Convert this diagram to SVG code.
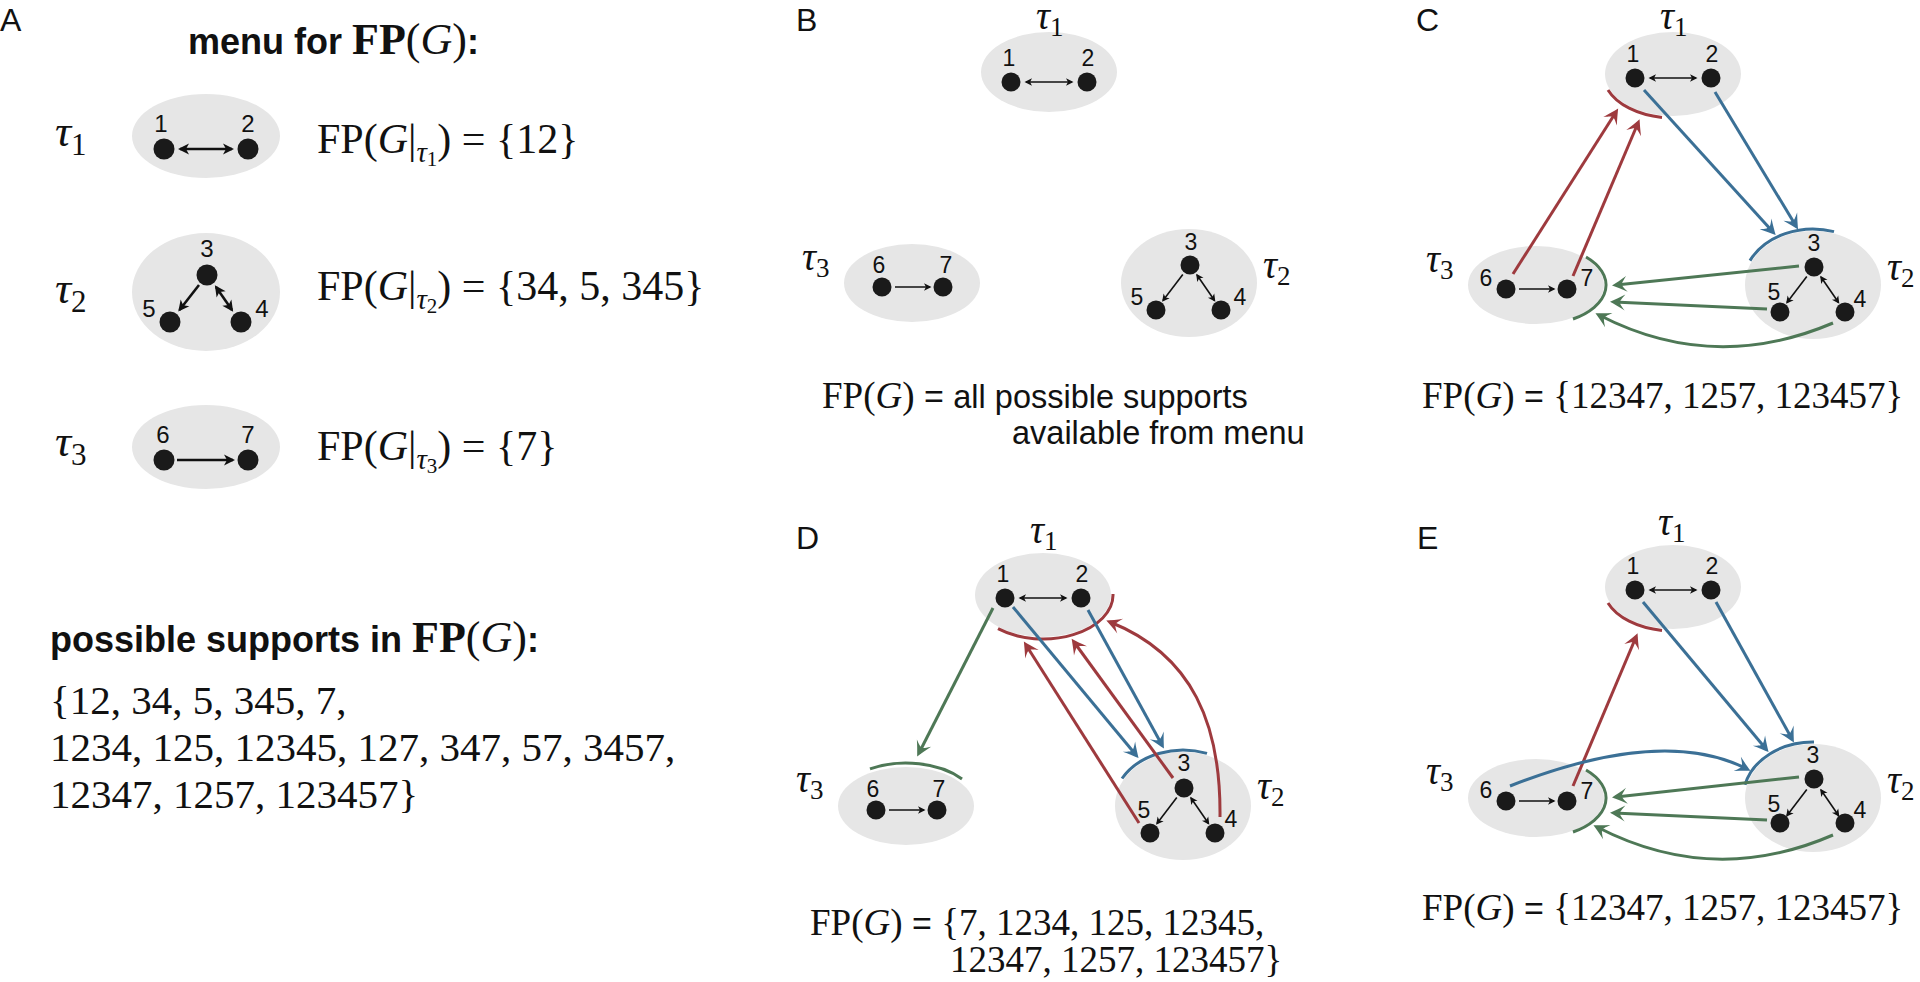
<svg xmlns="http://www.w3.org/2000/svg" width="1920" height="982" viewBox="0 0 1920 982">
<style>
.ell{fill:#e6e6e6}
.nd{fill:#1a1a1a}
.lbl{font-family:"Liberation Sans",Arial,sans-serif;font-size:23px;text-anchor:middle;fill:#111}
.lblA{font-family:"Liberation Sans",Arial,sans-serif;font-size:24px;text-anchor:middle;fill:#111}
.pl{font-family:"Liberation Sans",Arial,sans-serif;font-size:32px;fill:#111}
.tau{font-family:"Liberation Serif","Times New Roman",serif;font-style:italic;font-size:39px;fill:#111}
.tauA{font-family:"Liberation Serif","Times New Roman",serif;font-style:italic;font-size:45px;fill:#111}
.sub{font-style:normal;font-size:27px}
.subA{font-style:normal;font-size:31px}
.m{font-family:"Liberation Serif","Times New Roman",serif;font-size:37px;fill:#111}
.mA{font-family:"Liberation Serif","Times New Roman",serif;font-size:42px;fill:#111}
.mS{font-family:"Liberation Serif","Times New Roman",serif;font-size:41px;fill:#111}
.it{font-style:italic}
.eq{font-family:"Liberation Sans",Arial,sans-serif;font-size:34px}
.sans{font-family:"Liberation Sans",Arial,sans-serif;font-size:32.5px;fill:#111}
.hd{font-family:"Liberation Sans",Arial,sans-serif;font-weight:bold;font-size:36px;fill:#111}
.hm{font-family:"Liberation Serif","Times New Roman",serif;font-size:44px}
.bk{stroke:#111;stroke-width:1.6;fill:none;marker-end:url(#hb)}
.bk2{marker-start:url(#hb)}
.bkA{stroke:#111;stroke-width:2.6;fill:none;marker-end:url(#hbA)}
.bkA2{marker-start:url(#hbA)}
.r{stroke:#9e3a3e;stroke-width:3;fill:none}
.b{stroke:#3b7096;stroke-width:3;fill:none}
.g{stroke:#4e7856;stroke-width:3;fill:none}
.ra{marker-end:url(#hr)}
.ba{marker-end:url(#hbl)}
.ga{marker-end:url(#hg)}
</style>
<defs>
<marker id="hb" markerUnits="userSpaceOnUse" markerWidth="10" markerHeight="10" refX="-1.5" refY="0" orient="auto-start-reverse" style="overflow:visible"><path d="M0,0 L-7.5,-3.8 L-5.5,0 L-7.5,3.8 Z" fill="#111"/></marker>
<marker id="hbA" markerUnits="userSpaceOnUse" markerWidth="14" markerHeight="14" refX="-2" refY="0" orient="auto-start-reverse" style="overflow:visible"><path d="M0,0 L-11,-5.5 L-8,0 L-11,5.5 Z" fill="#111"/></marker>
<marker id="hr" markerUnits="userSpaceOnUse" markerWidth="20" markerHeight="20" refX="-4" refY="0" orient="auto" style="overflow:visible"><path d="M0,0 C-4,-2 -10,-5 -15,-8 C-11,-3 -10,-1.5 -10,0 C-10,1.5 -11,3 -15,8 C-10,5 -4,2 0,0 Z" fill="#9e3a3e"/></marker>
<marker id="hbl" markerUnits="userSpaceOnUse" markerWidth="20" markerHeight="20" refX="-4" refY="0" orient="auto" style="overflow:visible"><path d="M0,0 C-4,-2 -10,-5 -15,-8 C-11,-3 -10,-1.5 -10,0 C-10,1.5 -11,3 -15,8 C-10,5 -4,2 0,0 Z" fill="#3b7096"/></marker>
<marker id="hg" markerUnits="userSpaceOnUse" markerWidth="20" markerHeight="20" refX="-4" refY="0" orient="auto" style="overflow:visible"><path d="M0,0 C-4,-2 -10,-5 -15,-8 C-11,-3 -10,-1.5 -10,0 C-10,1.5 -11,3 -15,8 C-10,5 -4,2 0,0 Z" fill="#4e7856"/></marker>
</defs>
<rect width="1920" height="982" fill="#fff"/>

<g id="panel-labels">
<text class="pl" x="0" y="31">A</text>
<text class="pl" x="796" y="31">B</text>
<text class="pl" x="1416" y="31">C</text>
<text class="pl" x="796" y="549">D</text>
<text class="pl" x="1417" y="549">E</text>
</g>

<!-- ===== Panel A ===== -->
<g id="A">
<text class="hd" x="188" y="54">menu for <tspan class="hm" font-weight="bold">FP</tspan><tspan class="hm" font-weight="normal">(<tspan class="it">G</tspan>)</tspan>:</text>

<g id="A-tau1">
<text class="tauA" x="55" y="146">τ<tspan class="subA" dy="9">1</tspan></text>
<ellipse class="ell" cx="206" cy="136" rx="74" ry="42"/>
<line class="bkA bkA2" x1="180" y1="149" x2="232" y2="149"/>
<circle id="A-n1" class="nd" cx="164" cy="149" r="10.5"/>
<circle id="A-n2" class="nd" cx="248" cy="149" r="10.5"/>
<text class="lblA" x="161" y="132">1</text>
<text class="lblA" x="248" y="132">2</text>
<text class="mA" x="317" y="153">FP(<tspan class="it">G</tspan>|<tspan class="it" font-size="29" dy="9">τ</tspan><tspan font-size="21" dy="4">1</tspan><tspan dy="-13">) = {12}</tspan></text>
</g>

<g id="A-tau2">
<text class="tauA" x="55" y="303">τ<tspan class="subA" dy="9">2</tspan></text>
<ellipse class="ell" cx="206" cy="292" rx="74" ry="59"/>
<line class="bkA" x1="199" y1="285" x2="179.5" y2="310"/>
<line class="bkA bkA2" x1="216" y1="287" x2="232" y2="310"/>
<circle id="A-n3" class="nd" cx="207" cy="275" r="10.5"/>
<circle id="A-n5" class="nd" cx="170" cy="322" r="10.5"/>
<circle id="A-n4" class="nd" cx="241" cy="322" r="10.5"/>
<text class="lblA" x="207" y="257">3</text>
<text class="lblA" x="149" y="317">5</text>
<text class="lblA" x="262" y="317">4</text>
<text class="mA" x="317" y="300">FP(<tspan class="it">G</tspan>|<tspan class="it" font-size="29" dy="9">τ</tspan><tspan font-size="21" dy="4">2</tspan><tspan dy="-13">) = {34, 5, 345}</tspan></text>
</g>

<g id="A-tau3">
<text class="tauA" x="55" y="456">τ<tspan class="subA" dy="9">3</tspan></text>
<ellipse class="ell" cx="206" cy="447" rx="74" ry="42"/>
<line class="bkA" x1="177" y1="460" x2="233" y2="460"/>
<circle id="A-n6" class="nd" cx="164" cy="460" r="10.5"/>
<circle id="A-n7" class="nd" cx="248" cy="460" r="10.5"/>
<text class="lblA" x="163" y="443">6</text>
<text class="lblA" x="248" y="443">7</text>
<text class="mA" x="317" y="460">FP(<tspan class="it">G</tspan>|<tspan class="it" font-size="29" dy="9">τ</tspan><tspan font-size="21" dy="4">3</tspan><tspan dy="-13">) = {7}</tspan></text>
</g>

<g id="A-supports">
<text class="hd" x="50" y="652">possible supports in <tspan class="hm" font-weight="bold">FP</tspan><tspan class="hm" font-weight="normal">(<tspan class="it">G</tspan>)</tspan>:</text>
<text class="mS" x="50" y="714">{12, 34, 5, 345, 7,</text>
<text class="mS" x="50" y="761">1234, 125, 12345, 127, 347, 57, 3457,</text>
<text class="mS" x="50" y="808">12347, 1257, 123457}</text>
</g>
</g>

<!-- ===== Panel B ===== -->
<g id="B" transform="translate(1049,72)">
<g id="B-tau1">
<ellipse class="ell" cx="0" cy="0" rx="68" ry="40"/>
<text class="tau" x="-13" y="-43">τ<tspan class="sub" dy="7">1</tspan></text>
<line class="bk bk2" x1="-23" y1="10" x2="23" y2="10"/>
<circle id="B-n1" class="nd" cx="-38" cy="10" r="9.5"/>
<circle id="B-n2" class="nd" cx="38" cy="10" r="9.5"/>
<text class="lbl" x="-40" y="-6">1</text>
<text class="lbl" x="39" y="-6">2</text>
</g>
<g id="B-tau3">
<ellipse class="ell" cx="-137" cy="211" rx="68" ry="39"/>
<text class="tau" x="-247" y="198">τ<tspan class="sub" dy="7">3</tspan></text>
<line class="bk" x1="-154" y1="215" x2="-119" y2="215"/>
<circle id="B-n6" class="nd" cx="-167" cy="215" r="9.5"/>
<circle id="B-n7" class="nd" cx="-106" cy="215" r="9.5"/>
<text class="lbl" x="-170" y="201">6</text>
<text class="lbl" x="-103" y="201">7</text>
</g>
<g id="B-tau2">
<ellipse class="ell" cx="140" cy="211" rx="68" ry="54"/>
<text class="tau" x="214" y="206">τ<tspan class="sub" dy="7">2</tspan></text>
<line class="bk" x1="133.8" y1="202.6" x2="114" y2="228.6"/>
<line class="bk bk2" x1="148" y1="203" x2="165.5" y2="228.5"/>
<circle id="B-n3" class="nd" cx="141" cy="193" r="9.5"/>
<circle id="B-n5" class="nd" cx="107" cy="238" r="9.5"/>
<circle id="B-n4" class="nd" cx="172" cy="238" r="9.5"/>
<text class="lbl" x="142" y="178">3</text>
<text class="lbl" x="88" y="233">5</text>
<text class="lbl" x="191" y="233">4</text>
</g>
</g>
<g id="B-formula">
<text class="m" x="822" y="408">FP(<tspan class="it">G</tspan>)<tspan class="eq"> = </tspan><tspan class="sans">all possible supports</tspan></text>
<text class="sans" x="1012" y="444" font-size="28">available from menu</text>
</g>

<!-- ===== Panel C ===== -->
<g id="C" transform="translate(1673,74)">
<g id="C-tau1">
<ellipse class="ell" cx="0" cy="0" rx="68" ry="42"/>
<text class="tau" x="-13" y="-45">τ<tspan class="sub" dy="7">1</tspan></text>
</g>
<g id="C-tau3">
<ellipse class="ell" cx="-137" cy="211" rx="68" ry="39"/>
<text class="tau" x="-247" y="198">τ<tspan class="sub" dy="7">3</tspan></text>
</g>
<g id="C-tau2">
<ellipse class="ell" cx="140" cy="211" rx="68" ry="54"/>
<text class="tau" x="214" y="206">τ<tspan class="sub" dy="7">2</tspan></text>
</g>
<g id="C-connectors">
<path class="r" d="M -65 16 A 70 44 0 0 0 -11 43.4"/>
<path class="r ra" d="M -160 200 L -57 38"/>
<path class="r ra" d="M -100 202 L -35 49"/>
<path class="b ba" d="M -29 16 L 100 158"/>
<path class="b ba" d="M 42 18 L 123 152"/>
<path class="b" d="M 77 186.6 A 70 56 0 0 1 161 157.6"/>
<path class="g" d="M -87 183 A 70 40 0 0 1 -100 245"/>
<path class="g ga" d="M 126 192 L -57 211"/>
<path class="g ga" d="M 94 235 L -59 228"/>
<path class="g ga" d="M 160 249 Q 40 300 -74 241"/>
</g>
<g id="C-neurons">
<line class="bk bk2" x1="-23" y1="4" x2="23" y2="4"/>
<circle id="C-n1" class="nd" cx="-38" cy="4" r="9.5"/>
<circle id="C-n2" class="nd" cx="38" cy="4" r="9.5"/>
<text class="lbl" x="-40" y="-12">1</text>
<text class="lbl" x="39" y="-12">2</text>
<line class="bk" x1="-154" y1="215" x2="-119" y2="215"/>
<circle id="C-n6" class="nd" cx="-167" cy="215" r="9.5"/>
<circle id="C-n7" class="nd" cx="-106" cy="215" r="9.5"/>
<text class="lbl" x="-187" y="212">6</text>
<text class="lbl" x="-86" y="212">7</text>
<line class="bk" x1="133.8" y1="202.6" x2="114" y2="228.6"/>
<line class="bk bk2" x1="148" y1="203" x2="165.5" y2="228.5"/>
<circle id="C-n3" class="nd" cx="141" cy="193" r="9.5"/>
<circle id="C-n5" class="nd" cx="107" cy="238" r="9.5"/>
<circle id="C-n4" class="nd" cx="172" cy="238" r="9.5"/>
<text class="lbl" x="141" y="177">3</text>
<text class="lbl" x="101" y="226">5</text>
<text class="lbl" x="187" y="233">4</text>
</g>
</g>
<g id="C-formula">
<text class="m" x="1422" y="408">FP(<tspan class="it">G</tspan>)<tspan class="eq"> = </tspan>{12347, 1257, 123457}</text>
</g>

<!-- ===== Panel D ===== -->
<g id="D" transform="translate(1043,595)">
<g id="D-tau1">
<ellipse class="ell" cx="0" cy="0" rx="68" ry="42"/>
<text class="tau" x="-13" y="-52">τ<tspan class="sub" dy="7">1</tspan></text>
</g>
<g id="D-tau3">
<ellipse class="ell" cx="-137" cy="211" rx="68" ry="39"/>
<text class="tau" x="-247" y="197">τ<tspan class="sub" dy="7">3</tspan></text>
</g>
<g id="D-tau2">
<ellipse class="ell" cx="140" cy="211" rx="68" ry="54"/>
<text class="tau" x="214" y="204">τ<tspan class="sub" dy="7">2</tspan></text>
</g>
<g id="D-connectors">
<path class="r" d="M -45 33.7 A 70 44 0 0 0 70 -1"/>
<path class="g ga" d="M -50 13 L -124 158"/>
<path class="g" d="M -173 173.8 A 72 43 0 0 1 -81 184"/>
<path class="b" d="M 79 183.5 A 70 56 0 0 1 164 158.4"/>
<path class="b ba" d="M -30 12 L 93 160"/>
<path class="b ba" d="M 45 15 L 119 150"/>
<path class="r ra" d="M 96 228 L -17 50"/>
<path class="r ra" d="M 130 183 L 31 47"/>
<path class="r ra" d="M 177 222 C 178 130 150 60 67 27"/>
</g>
<g id="D-neurons">
<line class="bk bk2" x1="-23" y1="3" x2="23" y2="3"/>
<circle id="D-n1" class="nd" cx="-38" cy="3" r="9.5"/>
<circle id="D-n2" class="nd" cx="38" cy="3" r="9.5"/>
<text class="lbl" x="-40" y="-13">1</text>
<text class="lbl" x="39" y="-13">2</text>
<line class="bk" x1="-154" y1="215" x2="-119" y2="215"/>
<circle id="D-n6" class="nd" cx="-167" cy="215" r="9.5"/>
<circle id="D-n7" class="nd" cx="-106" cy="215" r="9.5"/>
<text class="lbl" x="-170" y="202">6</text>
<text class="lbl" x="-104" y="202">7</text>
<line class="bk" x1="133.8" y1="202.6" x2="114" y2="228.6"/>
<line class="bk bk2" x1="148" y1="203" x2="165.5" y2="228.5"/>
<circle id="D-n3" class="nd" cx="141" cy="193" r="9.5"/>
<circle id="D-n5" class="nd" cx="107" cy="238" r="9.5"/>
<circle id="D-n4" class="nd" cx="172" cy="238" r="9.5"/>
<text class="lbl" x="141" y="176">3</text>
<text class="lbl" x="101" y="223">5</text>
<text class="lbl" x="188" y="232">4</text>
</g>
</g>
<g id="D-formula">
<text class="m" x="810" y="935">FP(<tspan class="it">G</tspan>)<tspan class="eq"> = </tspan>{7, 1234, 125, 12345,</text>
<text class="m" x="950" y="972">12347, 1257, 123457}</text>
</g>

<!-- ===== Panel E ===== -->
<g id="E" transform="translate(1673,587)">
<g id="E-tau1">
<ellipse class="ell" cx="0" cy="0" rx="68" ry="42"/>
<text class="tau" x="-15" y="-52">τ<tspan class="sub" dy="7">1</tspan></text>
</g>
<g id="E-tau3">
<ellipse class="ell" cx="-137" cy="211" rx="68" ry="39"/>
<text class="tau" x="-247" y="197">τ<tspan class="sub" dy="7">3</tspan></text>
</g>
<g id="E-tau2">
<ellipse class="ell" cx="140" cy="211" rx="68" ry="54"/>
<text class="tau" x="214" y="206">τ<tspan class="sub" dy="7">2</tspan></text>
</g>
<g id="E-connectors">
<path class="r" d="M -65 16 A 70 44 0 0 0 -11 43.4"/>
<path class="r ra" d="M -100 199 L -37 50"/>
<path class="b ba" d="M -30 15 L 93 162"/>
<path class="b ba" d="M 43 15 L 119 152"/>
<path class="b" d="M 72 197.7 A 70 56 0 0 1 141 155"/>
<path class="b ba" d="M -163 199 Q -10 139 74 182"/>
<path class="g" d="M -87 183 A 70 40 0 0 1 -100 245"/>
<path class="g ga" d="M 126 190 L -57 210"/>
<path class="g ga" d="M 94 233 L -59 226"/>
<path class="g ga" d="M 160 248 Q 40 300 -76 240"/>
</g>
<g id="E-neurons">
<line class="bk bk2" x1="-23" y1="3" x2="23" y2="3"/>
<circle id="E-n1" class="nd" cx="-38" cy="3" r="9.5"/>
<circle id="E-n2" class="nd" cx="38" cy="3" r="9.5"/>
<text class="lbl" x="-40" y="-13">1</text>
<text class="lbl" x="39" y="-13">2</text>
<line class="bk" x1="-154" y1="214" x2="-119" y2="214"/>
<circle id="E-n6" class="nd" cx="-167" cy="214" r="9.5"/>
<circle id="E-n7" class="nd" cx="-106" cy="214" r="9.5"/>
<text class="lbl" x="-187" y="211">6</text>
<text class="lbl" x="-86" y="212">7</text>
<line class="bk" x1="133.8" y1="202.6" x2="114" y2="228.6"/>
<line class="bk bk2" x1="148" y1="203" x2="165.5" y2="228.5"/>
<circle id="E-n3" class="nd" cx="141" cy="192" r="9.5"/>
<circle id="E-n5" class="nd" cx="107" cy="236" r="9.5"/>
<circle id="E-n4" class="nd" cx="172" cy="236" r="9.5"/>
<text class="lbl" x="140" y="176">3</text>
<text class="lbl" x="101" y="225">5</text>
<text class="lbl" x="187" y="231">4</text>
</g>
</g>
<g id="E-formula">
<text class="m" x="1422" y="920">FP(<tspan class="it">G</tspan>)<tspan class="eq"> = </tspan>{12347, 1257, 123457}</text>
</g>
</svg>
